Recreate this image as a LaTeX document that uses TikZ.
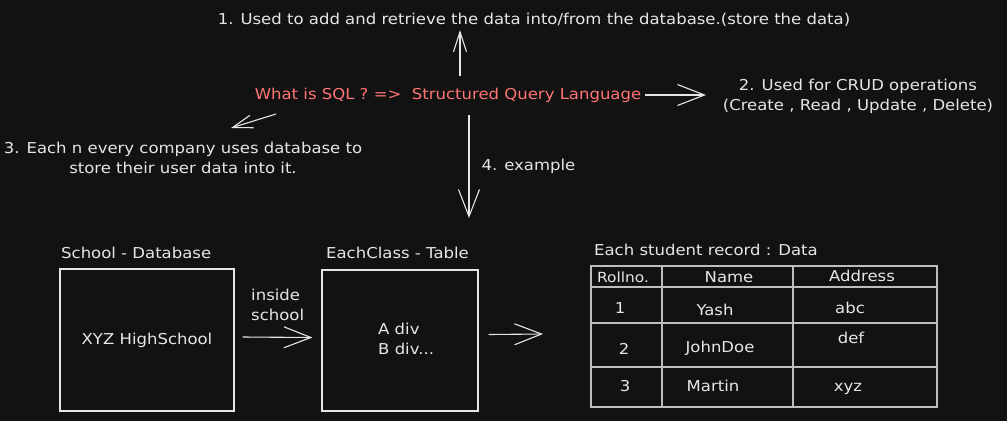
\documentclass[tikz,border=0pt]{standalone}
\usepackage{fontspec}
\setmainfont[FakeStretch=1.1]{DejaVu Sans}
\usetikzlibrary{arrows.meta}
\definecolor{bg}{HTML}{121212}
\definecolor{fg}{HTML}{E6E6E6}
\definecolor{sqlred}{HTML}{FF7474}
\definecolor{gridc}{HTML}{BEBEBE}
\begin{document}
\begin{tikzpicture}[x=1pt,y=-1pt,
  font=\fontsize{15}{20}\selectfont,
  txt/.style={text=fg, inner sep=0pt},
  redtxt/.style={text=sqlred, inner sep=0pt},
  box/.style={draw=fg, line width=1.2pt, text=fg, inner sep=0pt},
  conn/.style={draw=fg, line width=1.1pt, -{Straight Barb[length=27pt,width=21pt,line width=1.1pt]}},
  thin conn/.style={draw=fg, line width=1.1pt, -{Straight Barb[length=20pt,width=13pt,line width=1.1pt]}},
  grid line/.style={draw=gridc, line width=1.6pt}]
\fill[bg] (0,0) rectangle (1007,421);
\useasboundingbox (0,0) rectangle (1007,421);

% top texts
\node[txt] (t1) at (534,20) {1. Used to add and retrieve the data into/from the database.(store the data)};
\node[redtxt] (sql) at (448,95) {What is SQL ? =>\ \ Structured Query Language};
\node[txt, align=center] (t2) at (858,96) {2. Used for CRUD operations\\(Create , Read , Update , Delete)};
\node[txt, align=center] (t3) at (183,158) {3. Each n every company uses database to\\store their user data into it.};

% connectors from the SQL line
\coordinate (upS) at (460,76);
\coordinate (upE) at (460,30);
\draw[thin conn] (upS) -- (upE);
\coordinate (rtS) at (645,95);
\coordinate (rtE) at (706,95);
\draw[conn] (rtS) -- (rtE);
\coordinate (dlS) at (276,114);
\coordinate (dlE) at (231,128);
\draw[thin conn] (dlS) -- (dlE);
\coordinate (dnS) at (469,115);
\coordinate (dnE) at (469,218);
\draw[conn] (dnS) -- node[txt, right=12pt, anchor=west] (ex) {4. example} (dnE);

% boxes
\node[box, minimum width=174pt, minimum height=142pt] (db) at (147,340) {XYZ HighSchool};
\node[txt, anchor=west] (dbl) at (61,253) {School - Database};
\node[box, minimum width=156pt, minimum height=141pt] (cls) at (400,340.5) {};
\node[txt, anchor=west, align=left] (clsT) at (378,339) {A div\\B div...};
\node[txt, anchor=west] (clsl) at (326,253) {EachClass - Table};

\draw[conn] ([xshift=8pt,yshift=3pt]db.east) -- ([xshift=-9pt,yshift=3pt]cls.west);
\node[txt, anchor=west, align=left] (ins) at (251,305) {inside\\school};

% table
\node[draw=gridc, line width=1.6pt, minimum width=346pt, minimum height=141pt, inner sep=0pt] (tbl) at (764,336.5) {};
\node[txt, anchor=west] (tbll) at (594,250) {Each student record : Data};
\coordinate (tA) at (543,334);
\draw[conn] ([xshift=10pt,yshift=6pt]cls.east) -- (tA);

\coordinate (c1) at (662,266);
\coordinate (c2) at (793,266);
\draw[grid line] (c1) -- (c1 |- tbl.south);
\draw[grid line] (c2) -- (c2 |- tbl.south);
\coordinate (r1) at (591,287);
\coordinate (r2) at (591,323);
\coordinate (r3) at (591,367);
\draw[grid line] (r1) -- (r1 -| tbl.east);
\draw[grid line] (r2) -- (r2 -| tbl.east);
\draw[grid line] (r3) -- (r3 -| tbl.east);

\node[txt, font=\fontsize{14}{18}\selectfont] (h1) at (623,277) {Rollno.};
\node[txt] (h2) at (729,277) {Name};
\node[txt] (h3) at (862,276) {Address};
\node[txt] (a1) at (620,308) {1};
\node[txt] (a2) at (715,310) {Yash};
\node[txt] (a3) at (850,308) {abc};
\node[txt] (b1) at (624,349) {2};
\node[txt] (b2) at (720,348) {JohnDoe};
\node[txt] (b3) at (851,338) {def};
\node[txt] (d1) at (625,386) {3};
\node[txt] (d2) at (713,386) {Martin};
\node[txt] (d3) at (848,389) {xyz};
\end{tikzpicture}
\end{document}
